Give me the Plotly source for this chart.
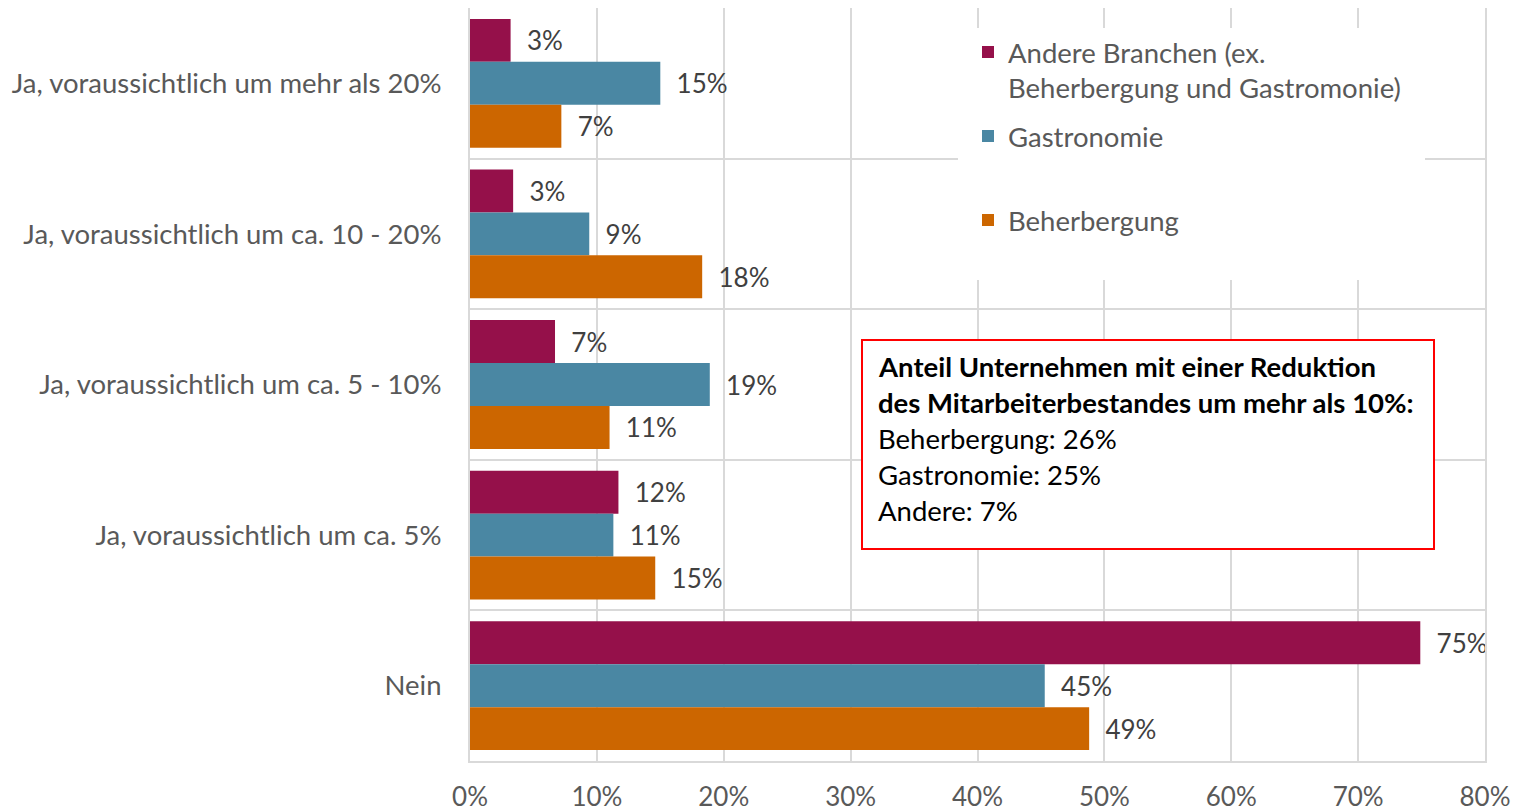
import plotly.graph_objects as go

categories = [
    "Ja, voraussichtlich um mehr als 20%",
    "Ja, voraussichtlich um ca. 10 - 20%",
    "Ja, voraussichtlich um ca. 5 - 10%",
    "Ja, voraussichtlich um ca. 5%",
    "Nein",
]
andere = [3.2, 3.4, 6.7, 11.7, 74.9]
gastro = [15.0, 9.4, 18.9, 11.3, 45.3]
beherb = [7.2, 18.3, 11.0, 14.6, 48.8]

series_names = [
    "Andere Branchen (ex.<br>Beherbergung und Gastromonie)",
    "Gastronomie",
    "Beherbergung",
]
colors = ["#95104A", "#4A87A3", "#CC6600"]
x_ticks = [0, 10, 20, 30, 40, 50, 60, 70, 80]
x_tick_text = [f"{t}%" for t in x_ticks]

box_lines = [
    ("<b>Anteil Unternehmen mit einer Reduktion</b>", 366),
    ("<b>des Mitarbeiterbestandes um mehr als 10%:</b>", 402),
    ("Beherbergung: 26%", 438),
    ("Gastronomie: 25%", 474),
    ("Andere: 7%", 510),
]

FONT = "Lato"
OFF = 8  # page body margin
W, H = 1522 - OFF, 812 - OFF
L, R, T, B = 470 - OFF, 37, 0, 51
PH = H - T - B
PW = W - L - R
BIG = 27.5


def px_x(px):
    return (px - OFF - L) / PW


def px_y(py):
    return 1 - (py - OFF - T) / PH


fig = go.Figure()
for i, (name, vals) in enumerate(zip(series_names, [andere, gastro, beherb])):
    fig.add_trace(go.Bar(
        y=categories, x=vals, orientation="h", name=name,
        marker=dict(color=colors[i], line=dict(width=0)),
        texttemplate="\u00a0\u00a0%{x:.0f}%", textposition="outside",
        textfont=dict(family=FONT, size=26, color="#404040"),
        cliponaxis=False, constraintext="none",
        legend=["legend", "legend2", "legend3"][i],
    ))

legend_common = dict(
    font=dict(family=FONT, size=BIG, color="#595959"),
    bgcolor="rgba(0,0,0,0)", xanchor="left", yanchor="middle",
    x=px_x(968), valign="top",
)

fig.update_layout(
    width=W, height=H,
    margin=dict(l=L, r=R, t=T, b=B, autoexpand=False),
    paper_bgcolor="white", plot_bgcolor="white",
    barmode="group", bargap=0.145, bargroupgap=0,
    font=dict(family=FONT, size=26, color="#595959"),
    legend=dict(**legend_common, y=px_y(70)),
    legend2=dict(**legend_common, y=px_y(136)),
    legend3=dict(**legend_common, y=px_y(220)),
    showlegend=True,
    xaxis=dict(
        range=[0, 80], tickvals=x_ticks, ticktext=x_tick_text,
        showgrid=True, gridcolor="#D9D9D9", gridwidth=2,
        showline=True, linecolor="#D9D9D9", linewidth=2, mirror=True,
        zeroline=False, ticks="", ticklabelstandoff=12,
        tickfont=dict(family=FONT, size=26, color="#595959"),
        automargin=False,
    ),
    yaxis=dict(
        type="category", autorange="reversed", tickson="boundaries",
        showgrid=True, gridcolor="#D9D9D9", gridwidth=2,
        showline=True, linecolor="#D9D9D9", linewidth=2, mirror=True,
        ticks="", ticklabelstandoff=21,
        tickfont=dict(family=FONT, size=BIG, color="#595959"),
        automargin=False,
    ),
)

# white area behind legend
fig.add_shape(type="rect", xref="paper", yref="paper",
              x0=px_x(958), x1=px_x(1425), y0=px_y(280), y1=px_y(28),
              fillcolor="white", line=dict(width=0), layer="above")
# info box
fig.add_shape(type="rect", xref="paper", yref="paper",
              x0=px_x(862), x1=px_x(1434), y0=px_y(549), y1=px_y(340),
              fillcolor="white", line=dict(color="#FF0000", width=2), layer="above")
for text, py in box_lines:
    fig.add_annotation(text=text, xref="paper", yref="paper",
                       x=px_x(876), y=px_y(py), xanchor="left", yanchor="middle",
                       showarrow=False, align="left",
                       font=dict(family=FONT, size=BIG, color="#000000"))

fig.write_html("out.html")
